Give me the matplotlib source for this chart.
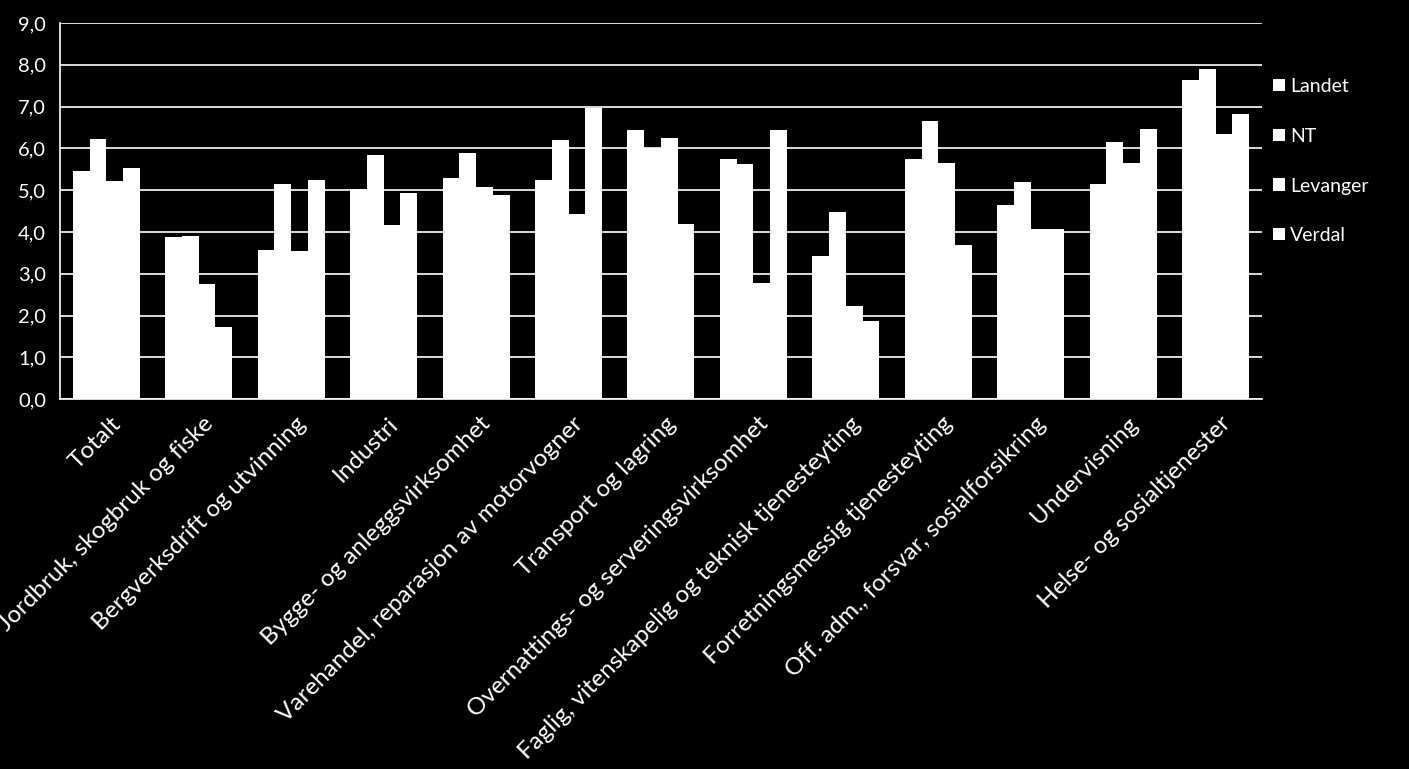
import numpy as np
import matplotlib.pyplot as plt
import matplotlib as mpl

mpl.rcParams['font.family'] = ['Lato', 'DejaVu Sans']

categories = ['Totalt', 'Jordbruk, skogbruk og fiske', 'Bergverksdrift og utvinning',
              'Industri', 'Bygge- og anleggsvirksomhet',
              'Varehandel, reparasjon av motorvogner', 'Transport og lagring',
              'Overnattings- og serveringsvirksomhet',
              'Faglig, vitenskapelig og teknisk tjenesteyting',
              'Forretningsmessig tjenesteyting', 'Off. adm., forsvar, sosialforsikring',
              'Undervisning', 'Helse- og sosialtjenester']
series = ['Landet', 'NT', 'Levanger', 'Verdal']
landet   = [5.46, 3.88, 3.57, 5.03, 5.29, 5.24, 6.44, 5.74, 3.42, 5.74, 4.64, 5.15, 7.63]
nt       = [6.22, 3.90, 5.15, 5.84, 5.89, 6.20, 6.00, 5.62, 4.48, 6.65, 5.19, 6.15, 7.90]
levanger = [5.22, 2.75, 3.54, 4.16, 5.07, 4.43, 6.25, 2.78, 2.23, 5.65, 4.07, 5.65, 6.34]
verdal   = [5.53, 1.72, 5.24, 4.93, 4.88, 6.96, 4.19, 6.44, 1.87, 3.69, 4.07, 6.46, 6.82]

fig = plt.figure(figsize=(14.09, 7.69), dpi=100, facecolor='black')
ax = fig.add_axes([0.0426, 0.481, 0.853, 0.489])
ax.set_facecolor('black')

x = np.arange(len(categories))
w = 0.181
for i, vals in enumerate([landet, nt, levanger, verdal]):
    ax.bar(x + (i - 1.5) * w, vals, w, color='white', label=series[i], zorder=3)

ax.set_xlim(-0.5, len(categories) - 0.5)
ax.set_ylim(0, 9)
ax.set_yticks(np.arange(0, 9.5, 1.0))
ax.set_yticklabels([f'{v:.1f}'.replace('.', ',') for v in np.arange(0, 9.5, 1.0)],
                   color='white', fontsize=14.5)
ax.yaxis.grid(True, color='white', linewidth=1.2, zorder=0)
ax.tick_params(axis='y', length=0, pad=10)
ax.tick_params(axis='x', length=0, pad=10)
ax.set_xticks(x + 0.04)
ax.set_xticklabels(categories, rotation=45, ha='right', rotation_mode='anchor',
                   color='white', fontsize=17.5)
for s in ['top', 'right']:
    ax.spines[s].set_visible(False)
for s in ['left', 'bottom']:
    ax.spines[s].set_color('white')
    ax.spines[s].set_linewidth(1.2)

leg = ax.legend(loc='upper left', bbox_to_anchor=(0.995, 0.90), frameon=False,
                handlelength=0.6, handleheight=0.6, handletextpad=0.25,
                labelspacing=1.68, fontsize=14)
for t in leg.get_texts():
    t.set_color('white')

fig.savefig('out.png', dpi=100, facecolor='black')
